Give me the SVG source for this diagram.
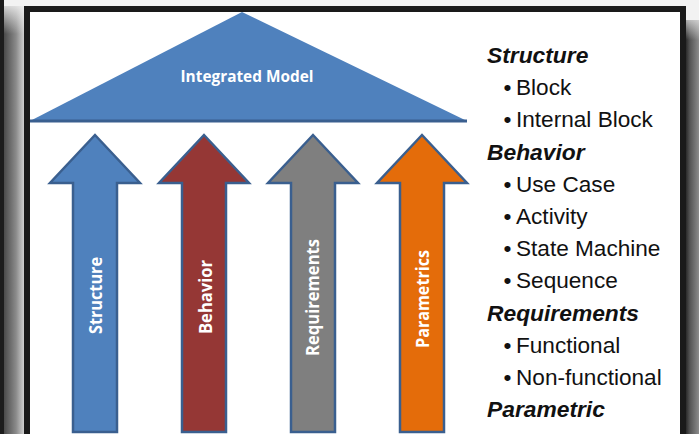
<svg xmlns="http://www.w3.org/2000/svg" width="699" height="434" viewBox="0 0 699 434">
<defs>
<linearGradient id="lshade" x1="0" y1="0" x2="1" y2="0">
<stop offset="0" stop-color="#4a4a4a"/>
<stop offset="0.6" stop-color="#8a8a8a"/>
<stop offset="1" stop-color="#cfcfcf"/>
</linearGradient>
<linearGradient id="rshade" x1="0" y1="0" x2="1" y2="0">
<stop offset="0" stop-color="#2a2a2a"/>
<stop offset="0.3" stop-color="#555"/>
<stop offset="1" stop-color="#8c8c8c"/>
</linearGradient>
<linearGradient id="vfade" x1="0" y1="0" x2="0" y2="1">
<stop offset="0" stop-color="#f2f2f2" stop-opacity="1"/>
<stop offset="1" stop-color="#f2f2f2" stop-opacity="0"/>
</linearGradient>
<style>
.arrow{stroke:#3a5f8f;stroke-width:2.5;stroke-linejoin:miter}
.lbl{font-family:"Open Sans","Noto Sans",sans-serif;font-weight:700;fill:#ffffff;text-anchor:middle}
.head{font-family:"Liberation Sans",Arial,sans-serif;font-weight:700;font-style:italic;font-size:22.8px;fill:#111}
.item{font-family:"Liberation Sans",Arial,sans-serif;font-size:22.6px;fill:#111}
</style>
</defs>
<rect x="0" y="0" width="699" height="434" fill="#f2f2f2"/>
<rect x="0" y="0" width="4" height="434" fill="#1c1c1c"/>
<rect x="4" y="6" width="20" height="428" fill="url(#lshade)"/>
<rect x="4" y="0" width="20" height="34" fill="url(#vfade)"/>
<rect x="686" y="20" width="13" height="414" fill="url(#rshade)"/>
<rect x="686" y="10" width="13" height="30" fill="url(#vfade)"/>
<rect x="27" y="9" width="656" height="440" fill="#ffffff" stroke="#1a1a1a" stroke-width="6"/>

<g id="integrated-model">
<polygon points="30,121 242,12 467,121" fill="#4f81bd"/>
<line x1="30" y1="121" x2="467" y2="121" stroke="#3a5f8f" stroke-width="3"/>
<text x="247" y="81.5" class="lbl" font-size="15.5" textLength="133" lengthAdjust="spacingAndGlyphs">Integrated Model</text>
</g>

<g id="structure">
<polygon class="arrow" fill="#4f81bd" points="95,135 140,183 117,183 117,432 73,432 73,183 50,183"/>
<text class="lbl" font-size="18" transform="translate(101.5,295.5) rotate(-90)" textLength="77" lengthAdjust="spacingAndGlyphs">Structure</text>
</g>
<g id="behavior">
<polygon class="arrow" fill="#953735" points="204,135 249,183 226,183 226,432 182,432 182,183 159,183"/>
<text class="lbl" font-size="18" transform="translate(211.5,297) rotate(-90)" textLength="74" lengthAdjust="spacingAndGlyphs">Behavior</text>
</g>
<g id="requirements">
<polygon class="arrow" fill="#7f7f7f" points="313,135 358,183 335,183 335,432 291,432 291,183 268,183"/>
<text class="lbl" font-size="18" transform="translate(318.5,297.5) rotate(-90)" textLength="117" lengthAdjust="spacingAndGlyphs">Requirements</text>
</g>
<g id="parametrics">
<polygon class="arrow" fill="#e46c0a" points="422,135 467,183 444,183 444,432 400,432 400,183 377,183"/>
<text class="lbl" font-size="18" transform="translate(429,299) rotate(-90)" textLength="98" lengthAdjust="spacingAndGlyphs">Parametrics</text>
</g>

<g id="connectors"></g>

<g id="legend">
<text class="head" x="487" y="63">Structure</text>
<text class="item" x="503.5" y="95.2">•<tspan x="516">Block</tspan></text>
<text class="item" x="503.5" y="127.4">•<tspan x="516">Internal Block</tspan></text>
<text class="head" x="487" y="159.6">Behavior</text>
<text class="item" x="503.5" y="191.8">•<tspan x="516">Use Case</tspan></text>
<text class="item" x="503.5" y="224">•<tspan x="516">Activity</tspan></text>
<text class="item" x="503.5" y="256.2">•<tspan x="516">State Machine</tspan></text>
<text class="item" x="503.5" y="288.4">•<tspan x="516">Sequence</tspan></text>
<text class="head" x="487" y="320.6">Requirements</text>
<text class="item" x="503.5" y="352.8">•<tspan x="516">Functional</tspan></text>
<text class="item" x="503.5" y="385">•<tspan x="516">Non-functional</tspan></text>
<text class="head" x="487" y="417.2">Parametric</text>
</g>
</svg>
